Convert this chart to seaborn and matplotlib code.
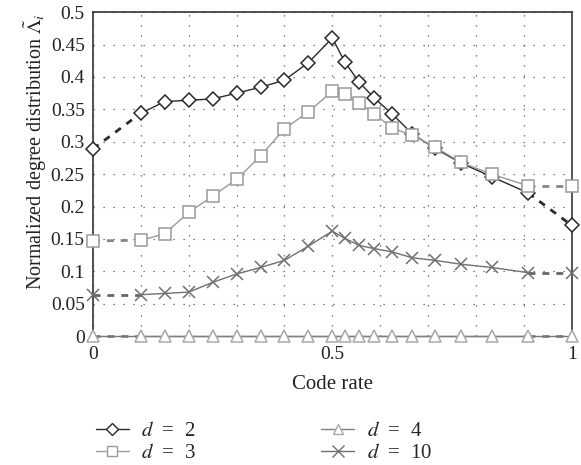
import matplotlib
matplotlib.use("Agg")
import matplotlib.pyplot as plt
import pandas as pd
import seaborn as sns

# code rates (0 .. 0.5 step 0.05, then 1/(1+q) for q = 0.9 .. 0)
rate = [0.0, 0.1, 0.15, 0.2, 0.25, 0.3, 0.35, 0.4, 0.45, 0.5,
        0.526, 0.556, 0.588, 0.625, 0.667, 0.714, 0.769, 0.833, 0.909, 1.0]

d2 = [0.289, 0.344, 0.362, 0.364, 0.366, 0.375, 0.384, 0.395, 0.422, 0.460,
      0.423, 0.392, 0.367, 0.343, 0.312, 0.290, 0.267, 0.246, 0.221, 0.171]
d3 = [0.147, 0.148, 0.158, 0.191, 0.216, 0.242, 0.278, 0.320, 0.346, 0.378,
      0.373, 0.360, 0.343, 0.321, 0.310, 0.292, 0.268, 0.250, 0.232, 0.232]
d4 = [0.0] * 20
d10 = [0.064, 0.064, 0.066, 0.068, 0.083, 0.096, 0.106, 0.117, 0.139, 0.162,
       0.151, 0.140, 0.135, 0.130, 0.121, 0.117, 0.111, 0.106, 0.098, 0.098]

ytick_vals = [0, 0.05, 0.1, 0.15, 0.2, 0.25, 0.3, 0.35, 0.4, 0.45, 0.5]
ytick_labels = ["0", "0.05", "0.1", "0.15", "0.2", "0.25", "0.3", "0.35", "0.4", "0.45", "0.5"]

sns.set_theme(style="white")
plt.rcParams["font.family"] = ["Liberation Serif", "DejaVu Serif"]
plt.rcParams["mathtext.fontset"] = "stix"

fig = plt.figure(figsize=(5.81, 4.65), dpi=100)
ax = fig.add_axes([0.160, 0.277, 0.824, 0.697])

# series: label, values, line colour, dashed colour, marker, marker edge, marker size
series = [
    ("$d$\u2002=\u20022", d2, "#2a2a2a", "#2a2a2a", "D", "#2a2a2a", 6.8),
    ("$d$\u2002=\u20023", d3, "#9a9a9a", "#858585", "s", "#9a9a9a", 8),
    ("$d$\u2002=\u20024", d4, "#808080", "#808080", "^", "#a8a8a8", 8.5),
    ("$d$\u2002=\u200210", d10, "#707070", "#666666", "x", "#707070", 9),
]

handles = []
for label, vals, col, dcol, mk, mec, ms in series:
    df = pd.DataFrame({"rate": rate, "val": vals})
    inner = df.iloc[1:-1]
    # solid middle part
    sns.lineplot(data=inner, x="rate", y="val", ax=ax, color=col, lw=1.0,
                 marker=mk, markersize=ms, markerfacecolor="white",
                 markeredgecolor=mec, markeredgewidth=1.1, clip_on=False,
                 zorder=3, legend=False)
    # dashed end segments
    for seg in (df.iloc[0:2], df.iloc[-2:]):
        sns.lineplot(data=seg, x="rate", y="val", ax=ax, color=dcol, lw=2.0,
                     linestyle=(0, (2.5, 2.5)), clip_on=False,
                     zorder=2, legend=False)
    ends = df.iloc[[0, -1]]
    ax.plot(ends["rate"], ends["val"], ls="none", marker=mk, markersize=ms,
            markerfacecolor="white", markeredgecolor=mec, markeredgewidth=1.1,
            clip_on=False, zorder=4)
    h, = ax.plot([], [], color=col, lw=1.0, marker=mk, markersize=ms * 0.9,
                 markerfacecolor="white", markeredgecolor=mec, markeredgewidth=1.0,
                 label=label)
    handles.append(h)

ax.set_xlim(0, 1)
ax.set_ylim(0, 0.5)
ax.set_xticks([0, 0.5, 1])
ax.set_xticklabels(["0", "0.5", "1"])
ax.set_yticks(ytick_vals)
ax.set_yticklabels(ytick_labels)
ax.set_xticks([0.1, 0.2, 0.3, 0.4, 0.6, 0.7, 0.8, 0.9], minor=True)
ax.tick_params(axis="both", which="both", length=0, labelsize=14, colors="#222222")
ax.tick_params(axis="x", pad=7)
ax.tick_params(axis="y", pad=6)

ax.grid(True, which="both", axis="x", color="#555555", lw=0.9, ls=(0, (1, 7)))
ax.grid(True, which="major", axis="y", color="#555555", lw=0.9, ls=(0, (1, 7)))

for side in ["left", "top"]:
    ax.spines[side].set_color("#333333")
    ax.spines[side].set_linewidth(1.2)
ax.spines["right"].set_color("#555555")
ax.spines["right"].set_linewidth(1.4)
ax.spines["bottom"].set_color("#777777")
ax.spines["bottom"].set_linewidth(1.0)

ax.set_xlabel("Code rate", fontsize=15, labelpad=9, color="#222222")
ax.set_ylabel(r"Normalized degree distribution $\tilde{\Lambda}_i$", fontsize=14.5,
              color="#222222")
ax.yaxis.set_label_coords(-0.092, 0.568)

ax.legend(handles=handles, loc="upper left", bbox_to_anchor=(-0.012, -0.237),
          ncol=2, frameon=False, fontsize=15, handlelength=1.6,
          columnspacing=6.0, labelspacing=0.12, handletextpad=0.6,
          borderaxespad=0)

fig.savefig("out.png", dpi=100)
